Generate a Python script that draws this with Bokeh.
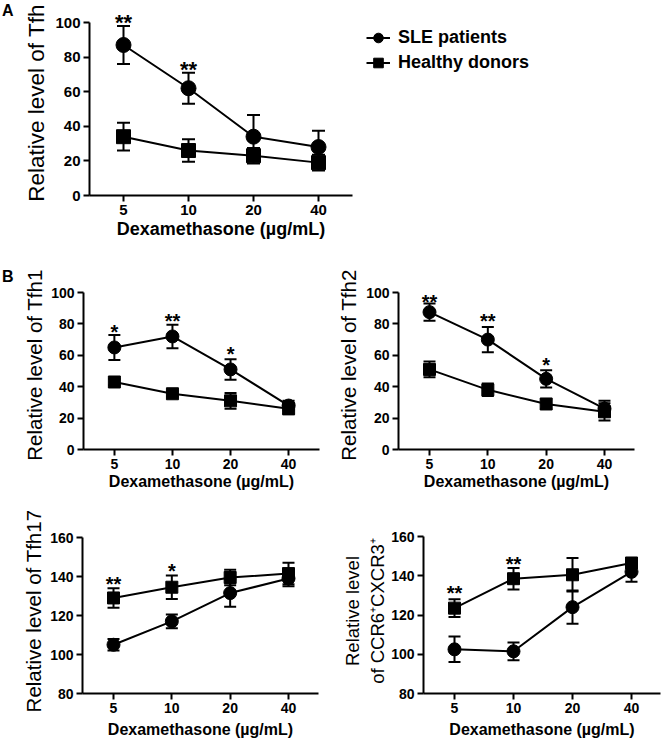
import math
from bokeh.plotting import figure
from bokeh.models import (ColumnDataSource, Whisker, TeeHead, Range1d, FixedTicker,
                          BasicTickFormatter, Legend, LegendItem, Div)
from bokeh.layouts import column, row
from bokeh.core.properties import value
from bokeh.embed import file_html
from bokeh.resources import INLINE

# ---------------- data ----------------
doses = [5, 10, 20, 40]
dose_labels = ["5", "10", "20", "40"]
series_names = ["SLE patients", "Healthy donors"]
panel_letters = ["A", "B"]

# A: Tfh
tfh_sle = [87, 62, 34, 28]
tfh_sle_err = [11, 9, 12.5, 9.5]
tfh_hd = [34, 26, 23, 19]
tfh_hd_err = [8, 6.5, 4.5, 4.5]
tfh_star_dose = [5, 10]
tfh_star_y = [103, 76]
tfh_star_text = ["**", "**"]

# B: Tfh1
tfh1_sle = [65, 72, 51, 28]
tfh1_sle_err = [8, 7.5, 6.5, 3]
tfh1_hd = [43, 35.5, 31, 26]
tfh1_hd_err = [2, 2, 5, 3.5]
tfh1_star_dose = [5, 10, 20]
tfh1_star_y = [78, 85, 64]
tfh1_star_text = ["*", "**", "*"]

# B: Tfh2
tfh2_sle = [87.5, 70, 45, 26]
tfh2_sle_err = [5.5, 8, 5.5, 5]
tfh2_hd = [51, 38, 29, 24]
tfh2_hd_err = [5, 4, 3, 5.5]
tfh2_star_dose = [5, 10, 20]
tfh2_star_y = [97, 85, 57]
tfh2_star_text = ["**", "**", "*"]

# B: Tfh17
tfh17_sle = [105, 117, 131.5, 139]
tfh17_sle_err = [3, 3.5, 7, 4]
tfh17_hd = [129, 134.5, 139.5, 141.5]
tfh17_hd_err = [5, 6, 4, 5.5]
tfh17_star_dose = [5, 10]
tfh17_star_y = [138.7, 145.5]
tfh17_star_text = ["**", "*"]

# B: CCR6+CXCR3+
ccr_sle = [102.5, 101.5, 124, 142]
ccr_sle_err = [6.5, 4.5, 8.5, 5]
ccr_hd = [123.5, 138.5, 140.5, 146.5]
ccr_hd_err = [4.5, 5.5, 8.5, 2]
ccr_star_dose = [5, 10]
ccr_star_y = [133.7, 148.6]
ccr_star_text = ["**", "**"]

y_ticks_0_100 = [0, 20, 40, 60, 80, 100]
y_ticks_80_160 = [80, 100, 120, 140, 160]

FONT = "Liberation Sans"
MARKERS = ["circle", "square"]


def style_series(p, src, marker, ms):
    lr = p.line("x", "y", source=src, line_width=2, line_color="black")
    sr = p.scatter("x", "y", source=src, marker=marker, size=ms,
                   fill_color="black", line_color="black")
    return [lr, sr]


def panel(x0, x1, fl, fr, pix5, ppx, y0, y1, ft, fb, ylo, yhi_tick, pix_hi,
          yticks, ylabel, ylab_size, ylab_standoff, tick_size, xlab_size,
          xlab_standoff, sle, sle_err, hd, hd_err, s_dose, s_y, s_text,
          msize, cap, star_size):
    ppu = (fb - pix_hi) / (yhi_tick - ylo)
    y_end = ylo + (fb - ft) / ppu
    x_start = 5 * 2 ** (-(pix5 - fl) / ppx)
    x_end = 5 * 2 ** ((fr - pix5) / ppx)
    p = figure(width=x1 - x0, height=y1 - y0, x_axis_type="log",
               x_range=Range1d(x_start, x_end), y_range=Range1d(ylo, y_end),
               min_border_left=fl - x0, min_border_right=x1 - fr,
               min_border_top=ft - y0, min_border_bottom=y1 - fb,
               toolbar_location=None, output_backend="svg")
    p.outline_line_color = None
    p.xgrid.visible = False
    p.ygrid.visible = False
    p.background_fill_color = "white"
    p.border_fill_color = "white"

    for ax in (p.xaxis[0], p.yaxis[0]):
        ax.axis_line_width = 2
        ax.axis_line_color = "black"
        ax.major_tick_line_width = 2
        ax.major_tick_line_color = "black"
        ax.major_tick_out = 6
        ax.major_tick_in = 0
        ax.minor_tick_line_color = None
        ax.major_label_text_font = FONT
        ax.major_label_text_font_style = "bold"
        ax.major_label_text_font_size = f"{tick_size}px"
        ax.major_label_text_color = "black"
        ax.major_label_standoff = 3
        ax.axis_label_text_font = FONT
        ax.axis_label_text_color = "black"

    xa = p.xaxis[0]
    xa.ticker = FixedTicker(ticks=doses)
    xa.formatter = BasicTickFormatter()
    xa.major_label_overrides = {d: lab for d, lab in zip(doses, dose_labels)}
    xa.axis_label = "Dexamethasone (µg/mL)"
    xa.axis_label_text_font_style = "bold"
    xa.axis_label_text_font_size = f"{xlab_size}px"
    xa.axis_label_standoff = xlab_standoff

    ya = p.yaxis[0]
    ya.ticker = FixedTicker(ticks=yticks)
    ya.bounds = (yticks[0], yticks[-1])
    ya.axis_label = ylabel
    ya.axis_label_text_font_style = "normal"
    ya.axis_label_text_font_size = f"{ylab_size}px"
    ya.axis_label_standoff = ylab_standoff

    sources = []
    for vals, errs, marker, ms in ((sle, sle_err, MARKERS[0], msize),
                                   (hd, hd_err, MARKERS[1], msize - 1)):
        src = ColumnDataSource(dict(x=doses, y=vals,
                                    upper=[v + e for v, e in zip(vals, errs)],
                                    lower=[v - e for v, e in zip(vals, errs)]))
        w = Whisker(source=src, base="x", upper="upper", lower="lower",
                    line_width=2, line_color="black",
                    upper_head=TeeHead(size=cap, line_width=2, line_color="black"),
                    lower_head=TeeHead(size=cap, line_width=2, line_color="black"))
        w.level = "glyph"
        p.add_layout(w)
        style_series(p, src, marker, ms)
        sources.append(src)

    star_src = ColumnDataSource(dict(x=s_dose, y=s_y, t=s_text))
    p.text("x", "y", text="t", source=star_src, text_font=value(FONT),
           text_font_style="bold", text_font_size=f"{star_size}px",
           text_align="center", text_baseline="middle", y_offset=5,
           text_color="black")
    return p, sources


def letter_div(text, height, top):
    html = (f'<div style="margin:{top}px 0 0 2px;line-height:16px;font-family:\'{FONT}\';'
            f'font-weight:bold;font-size:16px;color:black">{text}</div>')
    return Div(text=html, width=20, height=height, margin=0)


# ---------------- panel A ----------------
dA = letter_div(panel_letters[0], 250, 3)
pA, srcA = panel(20, 360, 89, 352, 123, 65, 0, 250, 10, 195, 0, 100, 22,
                 y_ticks_0_100, "Relative level of Tfh", 22.5, 3, 15, 18, 1,
                 tfh_sle, tfh_sle_err, tfh_hd, tfh_hd_err,
                 tfh_star_dose, tfh_star_y, tfh_star_text, 15, 13, 22)

# legend area (right of panel A); its frame is aligned with panel A's frame (10..195).
# The legend's renderers reuse panel A's series (they fall outside this area's range,
# so only their legend glyphs are seen).
pL = figure(width=303, height=250, x_axis_location=None, y_axis_location=None,
            min_border=0, toolbar_location=None, output_backend="svg",
            x_range=Range1d(-2, -1), y_range=Range1d(-2, -1))
pL.outline_line_color = None
pL.xgrid.visible = False
pL.ygrid.visible = False
items = []
for name, src, marker, ms in zip(series_names, srcA, MARKERS, (15, 14)):
    items.append(LegendItem(label=name, renderers=style_series(pL, src, marker, ms)))
legend = Legend(items=items, location=(6, 120), padding=0, margin=0, spacing=0,
                glyph_width=24, glyph_height=25, label_height=25, label_standoff=8,
                label_text_font=FONT, label_text_font_style="bold",
                label_text_font_size="18px", label_text_color="black",
                border_line_color=None, background_fill_alpha=0)
pL.add_layout(legend)

# ---------------- panel B ----------------
dB = letter_div(panel_letters[1], 250, 19)
p1, _ = panel(20, 330, 82, 319, 113, 58.33, 250, 500, 280, 449, 0, 100, 292,
              y_ticks_0_100, "Relative level of Tfh1", 20.5, 2, 14, 16, 1,
              tfh1_sle, tfh1_sle_err, tfh1_hd, tfh1_hd_err,
              tfh1_star_dose, tfh1_star_y, tfh1_star_text, 13, 12, 20)

p2, _ = panel(330, 663, 398, 634, 429, 58.33, 250, 500, 280, 449, 0, 100, 292,
              y_ticks_0_100, "Relative level of Tfh2", 20.5, 3, 14, 16, 1,
              tfh2_sle, tfh2_sle_err, tfh2_hd, tfh2_hd_err,
              tfh2_star_dose, tfh2_star_y, tfh2_star_text, 13, 12, 20)

p3, _ = panel(0, 330, 82, 318, 113, 58.33, 500, 749, 528, 693, 80, 160, 537,
              y_ticks_80_160, "Relative level of Tfh17", 20.5, 2, 14, 16, 5,
              tfh17_sle, tfh17_sle_err, tfh17_hd, tfh17_hd_err,
              tfh17_star_dose, tfh17_star_y, tfh17_star_text, 13, 12, 20)

p4, _ = panel(330, 663, 423, 660, 454, 59, 500, 749, 528, 693, 80, 160, 536,
              y_ticks_80_160, "Relative level\nof CCR6⁺CXCR3⁺", 18.5, 0, 14, 16, 5,
              ccr_sle, ccr_sle_err, ccr_hd, ccr_hd_err,
              ccr_star_dose, ccr_star_y, ccr_star_text, 13, 12, 20)

layout = column(row(dA, pA, pL), row(dB, p1, p2), row(p3, p4))
open("out.html", "w").write(file_html(layout, INLINE))
